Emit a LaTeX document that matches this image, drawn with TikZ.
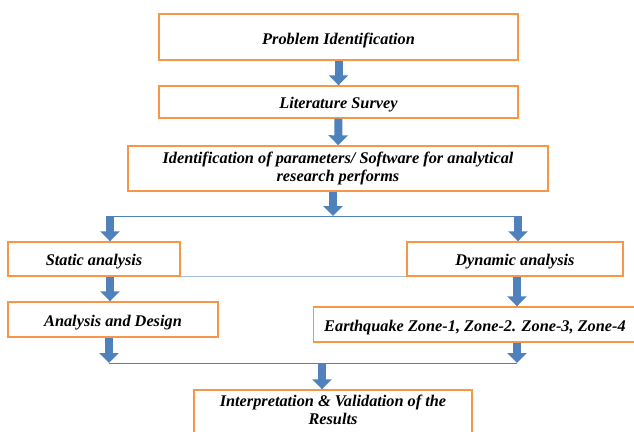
\documentclass[tikz,border=0pt]{standalone}
\usepackage{fontspec}
\setmainfont{Liberation Serif}
\usetikzlibrary{arrows.meta}
\definecolor{boxorange}{HTML}{F79646}
\definecolor{arrowblue}{HTML}{4F81BD}
\definecolor{arrowedge}{HTML}{385D8A}
\definecolor{lightline}{HTML}{A7BFDE}
\tikzset{
  box/.style={draw=boxorange, line width=1.4pt, fill=white, align=center,
    inner sep=0pt, font=\fontsize{16.3}{18}\selectfont\bfseries\itshape,
    execute at begin node={\rule{0pt}{17.5pt}}},
  blockarrow/.style={arrowblue, line width=8pt, -{Triangle[width=19pt,length=10pt]},
    preaction={draw=arrowedge, line width=10pt, -{Triangle[width=22pt,length=11.5pt]}}},
  joinline/.style={arrowblue, line width=1pt}
}
\begin{document}
\begin{tikzpicture}[x=1pt,y=-1pt]
      \useasboundingbox (0,0) rectangle (634,431);
      \node[box, minimum width=359pt, minimum height=46pt] (problem) at (338.5,37) {Problem Identification};
      \node[box, minimum width=359pt, minimum height=32pt] (survey) at (338.5,102) {Literature Survey};
      \node[box, minimum width=420pt, minimum height=45pt] (params) at (338,168.5)
        {Identification of parameters/ Software for analytical\\research performs};
      \node[box, minimum width=172pt, minimum height=34pt] (static) at (94,259) {Static analysis};
      \node[box, minimum width=216pt, minimum height=34pt] (dynamic) at (515,259) {Dynamic analysis};
      \node[box, minimum width=210pt, minimum height=35pt] (design) at (113,319.5) {Analysis and Design};
      \node[box, minimum width=323pt, minimum height=35pt] (zones) at (475,324.5)
        {Earthquake Zone-1, Zone-2. Zone-3, Zone-4};
      \node[box, minimum width=278pt, minimum height=52pt] (results) at (333,416)
        {Interpretation \& Validation of the\\Results\rule[-12pt]{0pt}{0pt}};
      % branch and merge points
      \coordinate (splitM) at (333,216);
      \coordinate (splitL) at (110,216);
      \coordinate (splitR) at (518,216);
      \coordinate (joinL) at (109,363);
      \coordinate (joinR) at (517,363);
      \coordinate (joinM) at (322,363);
      \begin{scope}[joinline]
        \draw (splitL) -- (splitR);
        \draw (joinL) -- (joinR);
        \draw[lightline] (static.south east) -- (dynamic.south west);
      \end{scope}
      \begin{scope}[blockarrow]
        \draw (problem) to (survey);
        \draw (survey) to (params);
        \draw (params.south -| splitM) to (splitM);
        \draw (splitL) to (splitL |- static.north);
        \draw (splitR) to (splitR |- dynamic.north);
        \draw (static.south -| splitL) to (splitL |- design.north);
        \draw (dynamic.south -| joinR) to (joinR |- zones.north);
        \draw (design.south -| joinL) to (joinL);
        \draw (zones.south -| joinR) to (joinR);
        \draw (joinM) to (joinM |- results.north);
      \end{scope}
    \end{tikzpicture}
\end{document}
